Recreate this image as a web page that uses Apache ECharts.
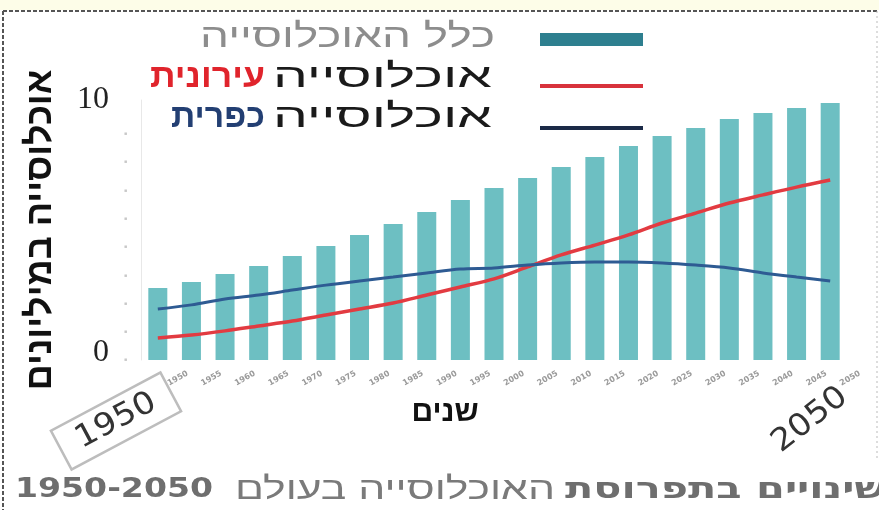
<!DOCTYPE html>
<html><head><meta charset="utf-8">
<script src="https://cdn.jsdelivr.net/npm/echarts@6/dist/echarts.min.js"></script>
<style>html,body{margin:0;padding:0;background:#fff}#c{width:879px;height:510px}</style>
</head><body><div id="c"></div>
<script>
const years = ['1950','1955','1960','1965','1970','1975','1980','1985','1990','1995','2000','2005','2010','2015','2020','2025','2030','2035','2040','2045','2050'];
const totalPop = [2.77, 3.0, 3.31, 3.62, 4.0, 4.38, 4.81, 5.23, 5.69, 6.15, 6.62, 7.0, 7.42, 7.81, 8.23, 8.62, 8.92, 9.27, 9.5, 9.69, 9.88];
const urbanPop = [0.85, 0.96, 1.12, 1.31, 1.5, 1.73, 1.96, 2.19, 2.5, 2.81, 3.12, 3.58, 4.04, 4.42, 4.81, 5.27, 5.65, 6.04, 6.35, 6.65, 6.92];
const ruralPop = [1.96, 2.12, 2.35, 2.5, 2.69, 2.88, 3.04, 3.19, 3.35, 3.5, 3.54, 3.65, 3.73, 3.77, 3.77, 3.73, 3.65, 3.54, 3.35, 3.19, 3.04];
const yMin = 0, yMax = 10;
const nameTotal = 'כלל האוכלוסייה';
const nameUrban = 'אוכלוסייה עירונית';
const nameRural = 'אוכלוסייה כפרית';
const wordPop = 'אוכלוסייה', wordUrban = 'עירונית', wordRural = 'כפרית';
const yTitle = 'אוכלוסייה במיליונים';
const xTitle = 'שנים';
const titleRange = '1950-2050', titleMid = 'האוכלוסייה בעולם', titleBold = 'שינויים בתפרוסת';
const firstYear = years[0], lastYear = years[years.length - 1];

const HEB = 'Liberation Sans';
const ctx = document.createElement('canvas').getContext('2d');
function measure(text, font) { ctx.font = font; return ctx.measureText(text).width; }
// text fitted horizontally into [left, right]
function fitText(text, left, right, y, size, family, weight, color, z) {
  const font = (weight === 'bold' ? 'bold ' : '') + size + 'px ' + family;
  const w = measure(text, font);
  return {type: 'text', x: left, y: y, scaleX: (right - left) / w, z: z || 60, silent: true,
    style: {text: text, fontFamily: family, fontSize: size, fontWeight: weight, fill: color, align: 'left', verticalAlign: 'middle'}};
}

const chart = echarts.init(document.getElementById('c'), null, {renderer: 'canvas'});

chart.setOption({
  backgroundColor: '#ffffff',
  animation: false,
  grid: {left: 141, right: 32, top: 100, bottom: 150, containLabel: false},
  xAxis: {
    type: 'category', data: years,
    axisLine: {show: false}, axisTick: {show: false},
    axisLabel: {interval: 0, rotate: 30, align: 'left', padding: [0, 0, 0, 12], margin: 30,
      fontFamily: 'DejaVu Sans', fontSize: 8, fontWeight: 'bold', color: '#9a9a9a'},
    name: xTitle, nameLocation: 'middle', nameGap: 38,
    nameTextStyle: {fontFamily: HEB, fontWeight: 'bold', fontSize: 30, color: '#111', padding: [0, 98, 0, 0]}
  },
  yAxis: [{
    type: 'value', min: yMin, max: yMax, interval: 10, position: 'left',
    name: yTitle, nameLocation: 'middle', nameRotate: 90, nameGap: 82,
    nameTextStyle: {fontFamily: HEB, fontWeight: 'bold', fontSize: 36, color: '#111'},
    axisLine: {show: true, lineStyle: {color: '#e8e8e8', width: 1}},
    axisTick: {show: false}, splitLine: {show: false},
    axisLabel: {margin: 32, fontFamily: 'Liberation Serif', fontSize: 32, color: '#222',
      formatter: v => v === 0 ? '{z|0}' : String(v),
      rich: {z: {fontFamily: 'Liberation Serif', fontSize: 32, color: '#222', padding: [0, 0, 14, 0]}}}
  }, {
    type: 'value', min: 0, max: 9.19, interval: 1, position: 'left', offset: 14,
    axisLine: {show: false}, axisTick: {show: false}, splitLine: {show: false},
    axisLabel: {margin: 0, fontSize: 5, color: '#c8c8c8', formatter: v => v < 9 ? '■' : ''}
  }],
  series: [
    {name: nameTotal, type: 'bar', data: totalPop, barWidth: 19, itemStyle: {color: '#6dbfc2'}, z: 1},
    {name: nameUrban, type: 'line', data: urbanPop, smooth: 0.3, symbol: 'none',
     lineStyle: {color: '#e23b41', width: 3.5}, itemStyle: {color: '#d8323c'}, z: 3},
    {name: nameRural, type: 'line', data: ruralPop, smooth: 0.3, symbol: 'none',
     lineStyle: {color: '#2e5b93', width: 3}, itemStyle: {color: '#1b2a47'}, z: 3}
  ],
  graphic: [
    {type: 'rect', shape: {x: 0, y: 0, width: 879, height: 10}, style: {fill: '#fdfde8'}, z: 0, silent: true},
    {type: 'line', shape: {x1: 3, y1: 11, x2: 877, y2: 11}, style: {stroke: '#555', lineWidth: 2, lineDash: [4, 2]}, silent: true},
    {type: 'line', shape: {x1: 3, y1: 11, x2: 3, y2: 510}, style: {stroke: '#555', lineWidth: 2, lineDash: [4, 2]}, silent: true},
    {type: 'line', shape: {x1: 877, y1: 11, x2: 877, y2: 460}, style: {stroke: '#bbb', lineWidth: 1, lineDash: [2, 3]}, silent: true},
    // legend
    {type: 'rect', shape: {x: 540, y: 33, width: 103, height: 13}, style: {fill: '#2e7f8f'}, silent: true},
    {type: 'rect', shape: {x: 540, y: 84, width: 103, height: 4}, style: {fill: '#d8323c'}, silent: true},
    {type: 'rect', shape: {x: 540, y: 126, width: 103, height: 4}, style: {fill: '#1b2a47'}, silent: true},
    fitText(nameTotal, 200, 495, 38, 33, HEB, 'normal', '#8d8d8d'),
    fitText(wordPop, 273, 492, 78, 33, HEB, 'normal', '#1a1a1a'),
    fitText(wordUrban, 150, 265, 78, 33, HEB, 'bold', '#e0242c'),
    fitText(wordPop, 273, 492, 118, 33, HEB, 'normal', '#1a1a1a'),
    fitText(wordRural, 171, 265, 118, 33, HEB, 'bold', '#233f73'),
    // year annotations
    {type: 'group', x: 116, y: 421, rotation: 28 * Math.PI / 180, z: 50, children: [
      {type: 'rect', shape: {x: -62, y: -22, width: 124, height: 44}, style: {fill: '#fff', stroke: '#bdbdbd', lineWidth: 2.5}},
      {type: 'text', x: 0, y: 0, scaleX: 1.1, style: {text: firstYear, fontFamily: 'DejaVu Sans', fontSize: 31, fill: '#333', align: 'center', verticalAlign: 'middle'}}
    ]},
    {type: 'text', x: 810, y: 420, rotation: 38 * Math.PI / 180, scaleX: 1.1, z: 50,
     style: {text: lastYear, fontFamily: 'DejaVu Sans', fontSize: 31, fill: '#333', align: 'center', verticalAlign: 'middle'}},
    // bottom caption
    fitText(titleRange, 15, 213, 490, 26, 'DejaVu Sans', 'bold', '#6e6e6e'),
    fitText(titleMid, 235, 555, 490, 31, HEB, 'normal', '#7a7a7a'),
    fitText(titleBold, 565, 886, 490, 29, 'DejaVu Sans', 'bold', '#6e6e6e')
  ]
});
</script></body></html>
